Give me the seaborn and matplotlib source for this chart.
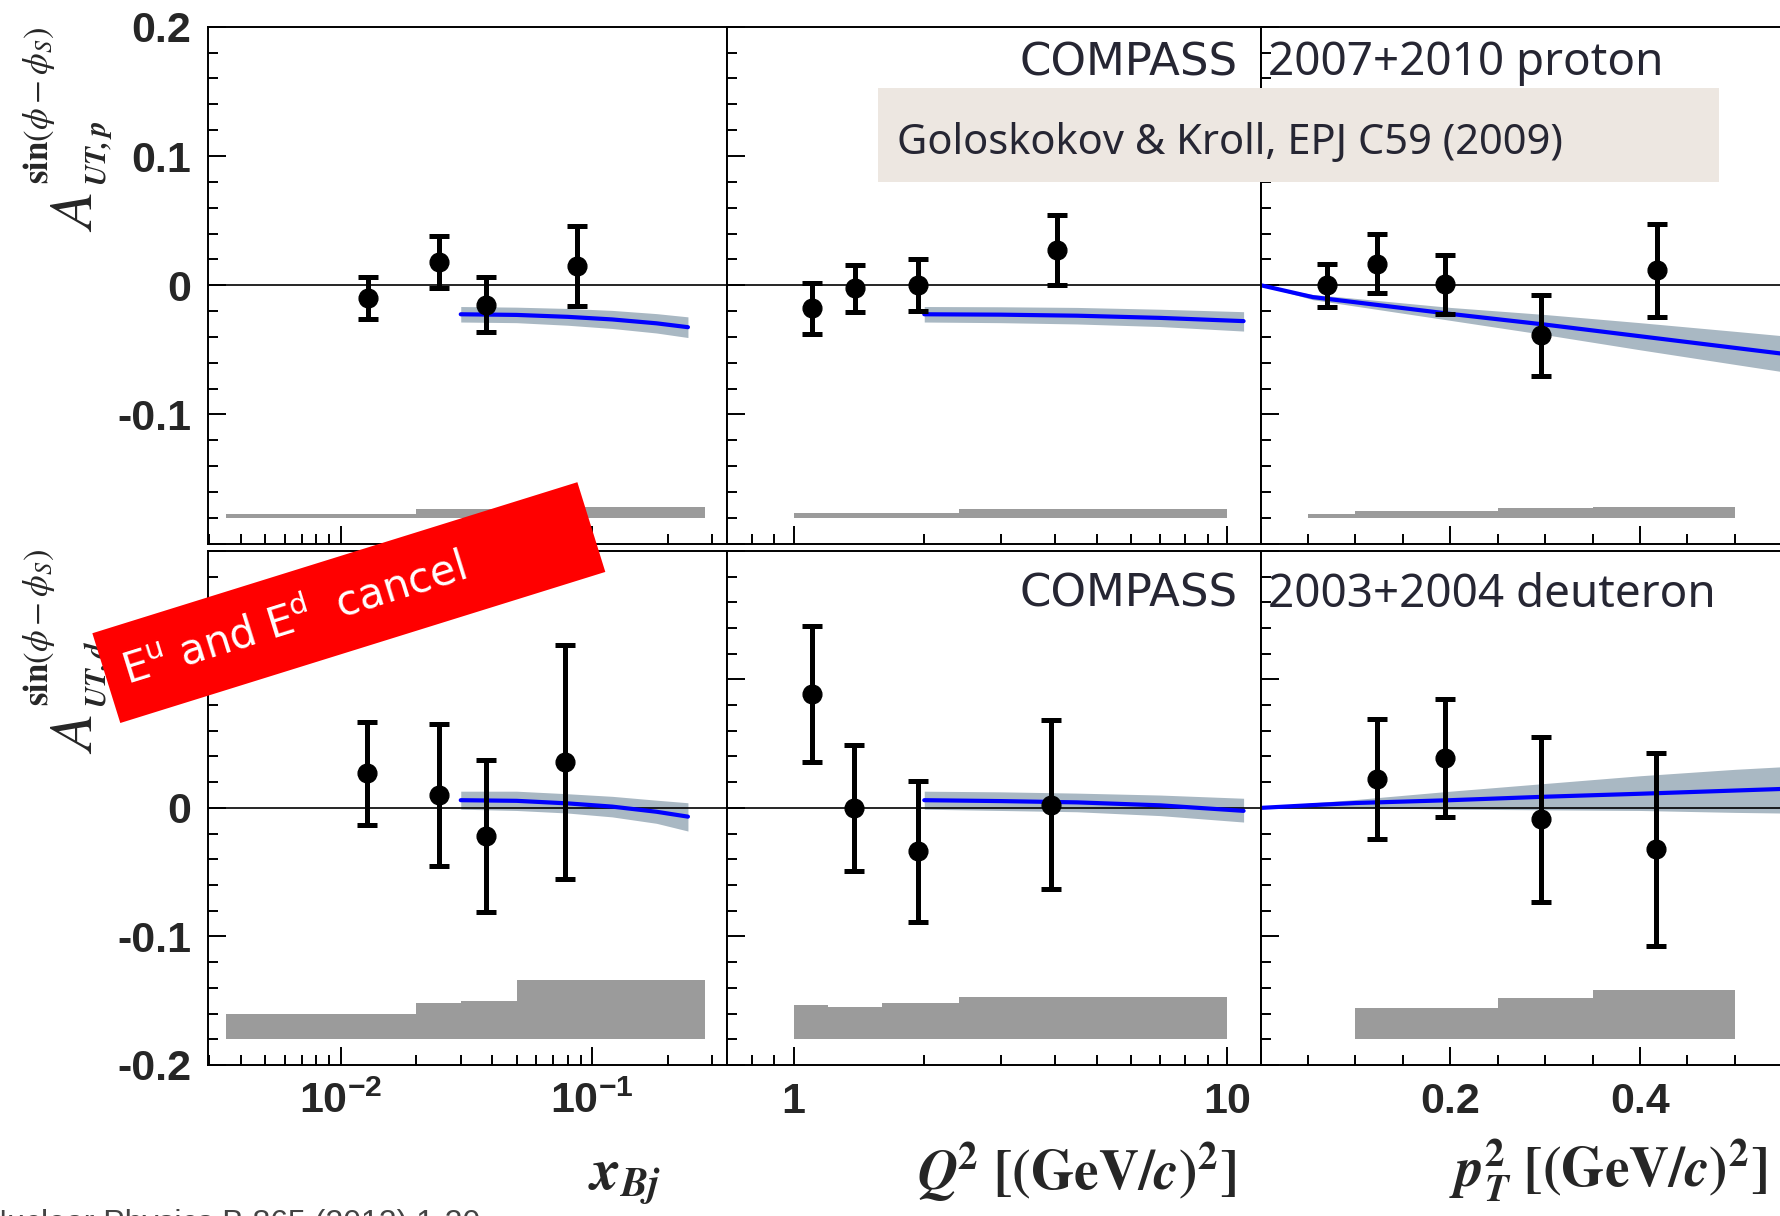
import matplotlib
matplotlib.use("Agg")
import matplotlib.pyplot as plt
import matplotlib.ticker as ticker
from matplotlib.patches import Rectangle
import numpy as np
import seaborn as sns

W, H = 1780, 1216

# ---- COMPASS points: proton (p) and deuteron (d) ----
xbj_p = [0.0128, 0.0245, 0.0379, 0.0867]
asym_xbj_p = [-0.010, 0.018, -0.015, 0.015]
err_xbj_p = [0.016, 0.020, 0.021, 0.031]
xbj_d = [0.0127, 0.0245, 0.0377, 0.078]
asym_xbj_d = [0.027, 0.010, -0.022, 0.036]
err_xbj_d = [0.040, 0.055, 0.059, 0.091]

q2_p = [1.10, 1.385, 1.935, 4.04]
asym_q2_p = [-0.018, -0.0025, 0.0, 0.027]
err_q2_p = [0.0195, 0.018, 0.020, 0.027]
q2_d = [1.10, 1.38, 1.935, 3.93]
asym_q2_d = [0.0887, 0.0, -0.0338, 0.0026]
err_q2_d = [0.053, 0.049, 0.055, 0.066]

pt_p = [0.070, 0.123, 0.1945, 0.2955, 0.418]
asym_pt_p = [0.0, 0.0167, 0.0006, -0.0389, 0.0117]
err_pt_p = [0.0167, 0.0226, 0.0227, 0.031, 0.036]
pt_d = [0.123, 0.1945, 0.2955, 0.417]
asym_pt_d = [0.0225, 0.039, -0.0089, -0.0321]
err_pt_d = [0.047, 0.046, 0.064, 0.075]

# ---- Goloskokov-Kroll curves with uncertainty band ----
gk_xbj = [0.03, 0.05, 0.08, 0.12, 0.18, 0.24]
gk_xbj_p = [-0.0225, -0.023, -0.0245, -0.0265, -0.0295, -0.0325]
gk_xbj_p_lo = [-0.0285, -0.029, -0.031, -0.0335, -0.037, -0.0405]
gk_xbj_p_hi = [-0.0165, -0.017, -0.018, -0.0195, -0.022, -0.0245]
gk_xbj_d = [0.006, 0.0055, 0.0035, 0.001, -0.003, -0.0068]
gk_xbj_d_lo = [-0.001, -0.002, -0.004, -0.007, -0.012, -0.018]
gk_xbj_d_hi = [0.013, 0.013, 0.011, 0.009, 0.006, 0.004]

gk_q2 = [2.0, 3.0, 4.5, 7.0, 10.9]
gk_q2_p = [-0.0225, -0.0228, -0.0236, -0.0253, -0.0278]
gk_q2_p_lo = [-0.0285, -0.029, -0.030, -0.032, -0.0355]
gk_q2_p_hi = [-0.0165, -0.0167, -0.0172, -0.0186, -0.0205]
gk_q2_d = [0.006, 0.0053, 0.0043, 0.002, -0.0023]
gk_q2_d_lo = [-0.001, -0.002, -0.003, -0.006, -0.011]
gk_q2_d_hi = [0.013, 0.0125, 0.0115, 0.010, 0.0075]

gk_pt = [0.0, 0.055, 0.1, 0.2, 0.3, 0.4, 0.5, 0.6]
gk_pt_p = [0.0, -0.0092, -0.0132, -0.0222, -0.0305, -0.0395, -0.0485, -0.0575]
gk_pt_p_lo = [0.0, -0.0112, -0.0162, -0.0272, -0.0383, -0.050, -0.0613, -0.0725]
gk_pt_p_hi = [0.0, -0.0072, -0.0102, -0.0172, -0.0227, -0.029, -0.0357, -0.0425]
gk_pt_d = [0.0, 0.0022, 0.0038, 0.006, 0.0087, 0.011, 0.0135, 0.016]
gk_pt_d_lo = [0.0, 0.0005, 0.0005, -0.001, -0.0015, -0.002, -0.0035, -0.0045]
gk_pt_d_hi = [0.0, 0.004, 0.0065, 0.013, 0.019, 0.025, 0.030, 0.034]

# ---- systematic error bands (top edge, baseline -0.18) ----
sys_base = -0.18
sys_xbj_edges = [0.0035, 0.02, 0.03, 0.05, 0.28]
sys_xbj_p = [-0.177, -0.173, -0.173, -0.172]
sys_xbj_d = [-0.160, -0.1515, -0.150, -0.134]
sys_q2_edges = [1.0, 1.2, 1.6, 2.4, 10.0]
sys_q2_p = [-0.176, -0.176, -0.176, -0.1736]
sys_q2_d = [-0.153, -0.1546, -0.152, -0.147]
sys_pt_p_edges = [0.05, 0.1, 0.25, 0.35, 0.5]
sys_pt_p = [-0.177, -0.175, -0.1725, -0.1717]
sys_pt_d_edges = [0.1, 0.25, 0.35, 0.5]
sys_pt_d = [-0.1556, -0.148, -0.1417]

sns.set_style("ticks")
plt.rcParams.update({
    "font.family": ["Liberation Sans", "DejaVu Sans"],
    "font.weight": "normal",
    "mathtext.fontset": "custom",
    "mathtext.rm": "Liberation Sans:bold",
    "mathtext.bf": "Liberation Sans:bold",
    "mathtext.it": "Liberation Sans:bold:italic",
    "xtick.labelsize": 31,
    "ytick.labelsize": 31,
})

fig = plt.figure(figsize=(W / 100, H / 100), dpi=100)


def px_axes(x0, x1, y0, y1):
    return fig.add_axes([x0 / W, 1 - y1 / H, (x1 - x0) / W, (y1 - y0) / H])


cols = [(207.7, 726.8), (726.8, 1260.6), (1260.6, 1829.7)]
rows = [(26.8, 543.6), (550.8, 1065.0)]
axes = [[px_axes(c[0], c[1], r[0], r[1]) for c in cols] for r in rows]

band_col = "#a9b8c3"
sys_col = "#9b9b9b"

data = [
    [(xbj_p, asym_xbj_p, err_xbj_p, gk_xbj, gk_xbj_p, gk_xbj_p_lo, gk_xbj_p_hi, sys_xbj_edges, sys_xbj_p),
     (q2_p, asym_q2_p, err_q2_p, gk_q2, gk_q2_p, gk_q2_p_lo, gk_q2_p_hi, sys_q2_edges, sys_q2_p),
     (pt_p, asym_pt_p, err_pt_p, gk_pt, gk_pt_p, gk_pt_p_lo, gk_pt_p_hi, sys_pt_p_edges, sys_pt_p)],
    [(xbj_d, asym_xbj_d, err_xbj_d, gk_xbj, gk_xbj_d, gk_xbj_d_lo, gk_xbj_d_hi, sys_xbj_edges, sys_xbj_d),
     (q2_d, asym_q2_d, err_q2_d, gk_q2, gk_q2_d, gk_q2_d_lo, gk_q2_d_hi, sys_q2_edges, sys_q2_d),
     (pt_d, asym_pt_d, err_pt_d, gk_pt, gk_pt_d, gk_pt_d_lo, gk_pt_d_hi, sys_pt_d_edges, sys_pt_d)],
]

for r in range(2):
    for c in range(3):
        ax = axes[r][c]
        x, y, e, tx, ty, tlo, thi, sedges, stop = data[r][c]
        if c < 2:
            ax.set_xscale("log")
        ax.fill_between(tx, tlo, thi, color=band_col, lw=0, zorder=1)
        sns.lineplot(x=tx, y=ty, ax=ax, color="#0000ff", linewidth=3.0,
                     estimator=None, sort=False, zorder=2)
        ax.stairs(stop, sedges, baseline=sys_base, fill=True, color=sys_col, zorder=1)
        ax.axhline(0, color="black", lw=1.2, zorder=1.5)
        ax.errorbar(x, y, yerr=e, fmt="o", color="black", ms=13.5,
                    elinewidth=3.6, capsize=7, capthick=3.6, zorder=5)

        ax.set_ylim(-0.2, 0.2)
        ax.set_yticks([-0.2, -0.1, 0, 0.1, 0.2])
        ax.yaxis.set_minor_locator(ticker.MultipleLocator(0.02))
        if c == 0:
            ax.set_xlim(0.00296, 0.3425)
            ax.set_xticks([0.01, 0.1])
            ax.set_xticklabels([r"$10^{-2}$", r"$10^{-1}$"])
            ax.xaxis.set_minor_locator(ticker.LogLocator(base=10, subs=np.arange(2, 10), numticks=20))
        elif c == 1:
            ax.set_xlim(0.701, 11.93)
            ax.set_xticks([1, 10])
            ax.set_xticklabels(["1", "10"], fontweight="bold")
            ax.xaxis.set_minor_locator(ticker.LogLocator(base=10, subs=np.arange(2, 10), numticks=20))
        else:
            ax.set_xlim(0, 0.6)
            ax.set_xticks([0, 0.2, 0.4, 0.6])
            ax.set_xticklabels(["", "0.2", "0.4", ""], fontweight="bold")
            ax.xaxis.set_minor_locator(ticker.MultipleLocator(0.05))
        ax.xaxis.set_minor_formatter(ticker.NullFormatter())

        if c == 0:
            if r == 0:
                ax.set_yticklabels(["", "-0.1", "0", "0.1", "0.2"], fontweight="bold")
            else:
                ax.set_yticklabels(["-0.2", "-0.1", "0", "0.1", ""], fontweight="bold")
        ax.tick_params(which="both", direction="in", top=False, right=False,
                       width=1.4, color="black", labelleft=(c == 0),
                       labelbottom=(r == 1))
        ax.tick_params(which="major", length=13)
        ax.tick_params(which="minor", length=7)
        ax.tick_params(axis="x", pad=12)
        ax.tick_params(axis="y", pad=12)
        for sp in ax.spines.values():
            sp.set_visible(True)
            sp.set_linewidth(1.4)
            sp.set_color("black")
        ax.set_xlabel("")
        ax.set_ylabel("")


# ---- y titles, built from pieces (rotated, reading upwards) ----
def ylabel(shift, sub):
    kw = dict(rotation=90, rotation_mode="anchor", ha="left", va="baseline",
              math_fontfamily="stix")
    fig.text(92 / W, 1 - (232 + shift) / H, r"$A$", fontsize=44, **kw)
    fig.text(106 / W, 1 - (186 + shift) / H, r"$\mathbfit{" + sub + "}$", fontsize=21, **kw)
    fig.text(48 / W, 1 - (184 + shift) / H, r"$\mathbf{sin}(\phi-\phi_{S})$", fontsize=25, **kw)


ylabel(0, "UT,p")
ylabel(522, "UT,d")

fig.text(661 / W, 1 - 1189 / H, r"$\mathbfit{x}_{\mathbfit{Bj}}$",
         ha="right", va="baseline", fontsize=42, math_fontfamily="stix")
fig.text(1236 / W, 1 - 1189 / H,
         r"$\mathbfit{Q}^{\mathbf{2}}\ \mathbf{[(GeV/}\mathbfit{c}\mathbf{)}^{\mathbf{2}}\mathbf{]}$",
         ha="right", va="baseline", fontsize=40, math_fontfamily="stix")
fig.text(1767 / W, 1 - 1186 / H,
         r"$\mathbfit{p}_{\mathbfit{T}}^{\mathbf{2}}\ \mathbf{[(GeV/}\mathbfit{c}\mathbf{)}^{\mathbf{2}}\mathbf{]}$",
         ha="right", va="baseline", fontsize=40, math_fontfamily="stix")

# ---- annotations ----
txt_col = "#262633"
for yb, tail in [(75, "2007+2010 proton"), (606.8, "2003+2004 deuteron")]:
    fig.text(1019 / W, 1 - yb / H, "COMPASS", family="DejaVu Sans",
             fontsize=32.5, color=txt_col, va="baseline", zorder=8)
    fig.text(1268 / W, 1 - yb / H, tail, family="Noto Sans",
             fontsize=33, color=txt_col, va="baseline", zorder=8)

fig.add_artist(Rectangle((878 / W, 1 - 182 / H), (1719 - 878) / W, (182 - 87.5) / H,
                         transform=fig.transFigure, facecolor="#ede7e1",
                         edgecolor="none", zorder=10))
fig.text(897 / W, 1 - 153.5 / H, "Goloskokov & Kroll, EPJ C59 (2009)",
         family="Noto Sans", fontsize=30, color=txt_col, va="baseline", zorder=11)

fig.add_artist(Rectangle((1.203, 4.93), 5.08, 0.94, angle=17.3,
                         transform=fig.dpi_scale_trans, facecolor="#ff0000",
                         edgecolor="none", zorder=20))
fig.text(1.235, 5.433, r"E$^{\mathrm{u}}$ and E$^{\mathrm{d}}$  cancel",
         transform=fig.dpi_scale_trans, rotation=17.3, rotation_mode="anchor",
         ha="left", va="center", color="white", fontsize=30, family="DejaVu Sans",
         math_fontfamily="dejavusans", zorder=21)

fig.text(-16 / W, 1 - 1232 / H, "Nuclear Physics B 865 (2012) 1-20",
         family="Liberation Sans", fontsize=23, color="#444444", va="baseline")

fig.savefig("out.png", dpi=100)
